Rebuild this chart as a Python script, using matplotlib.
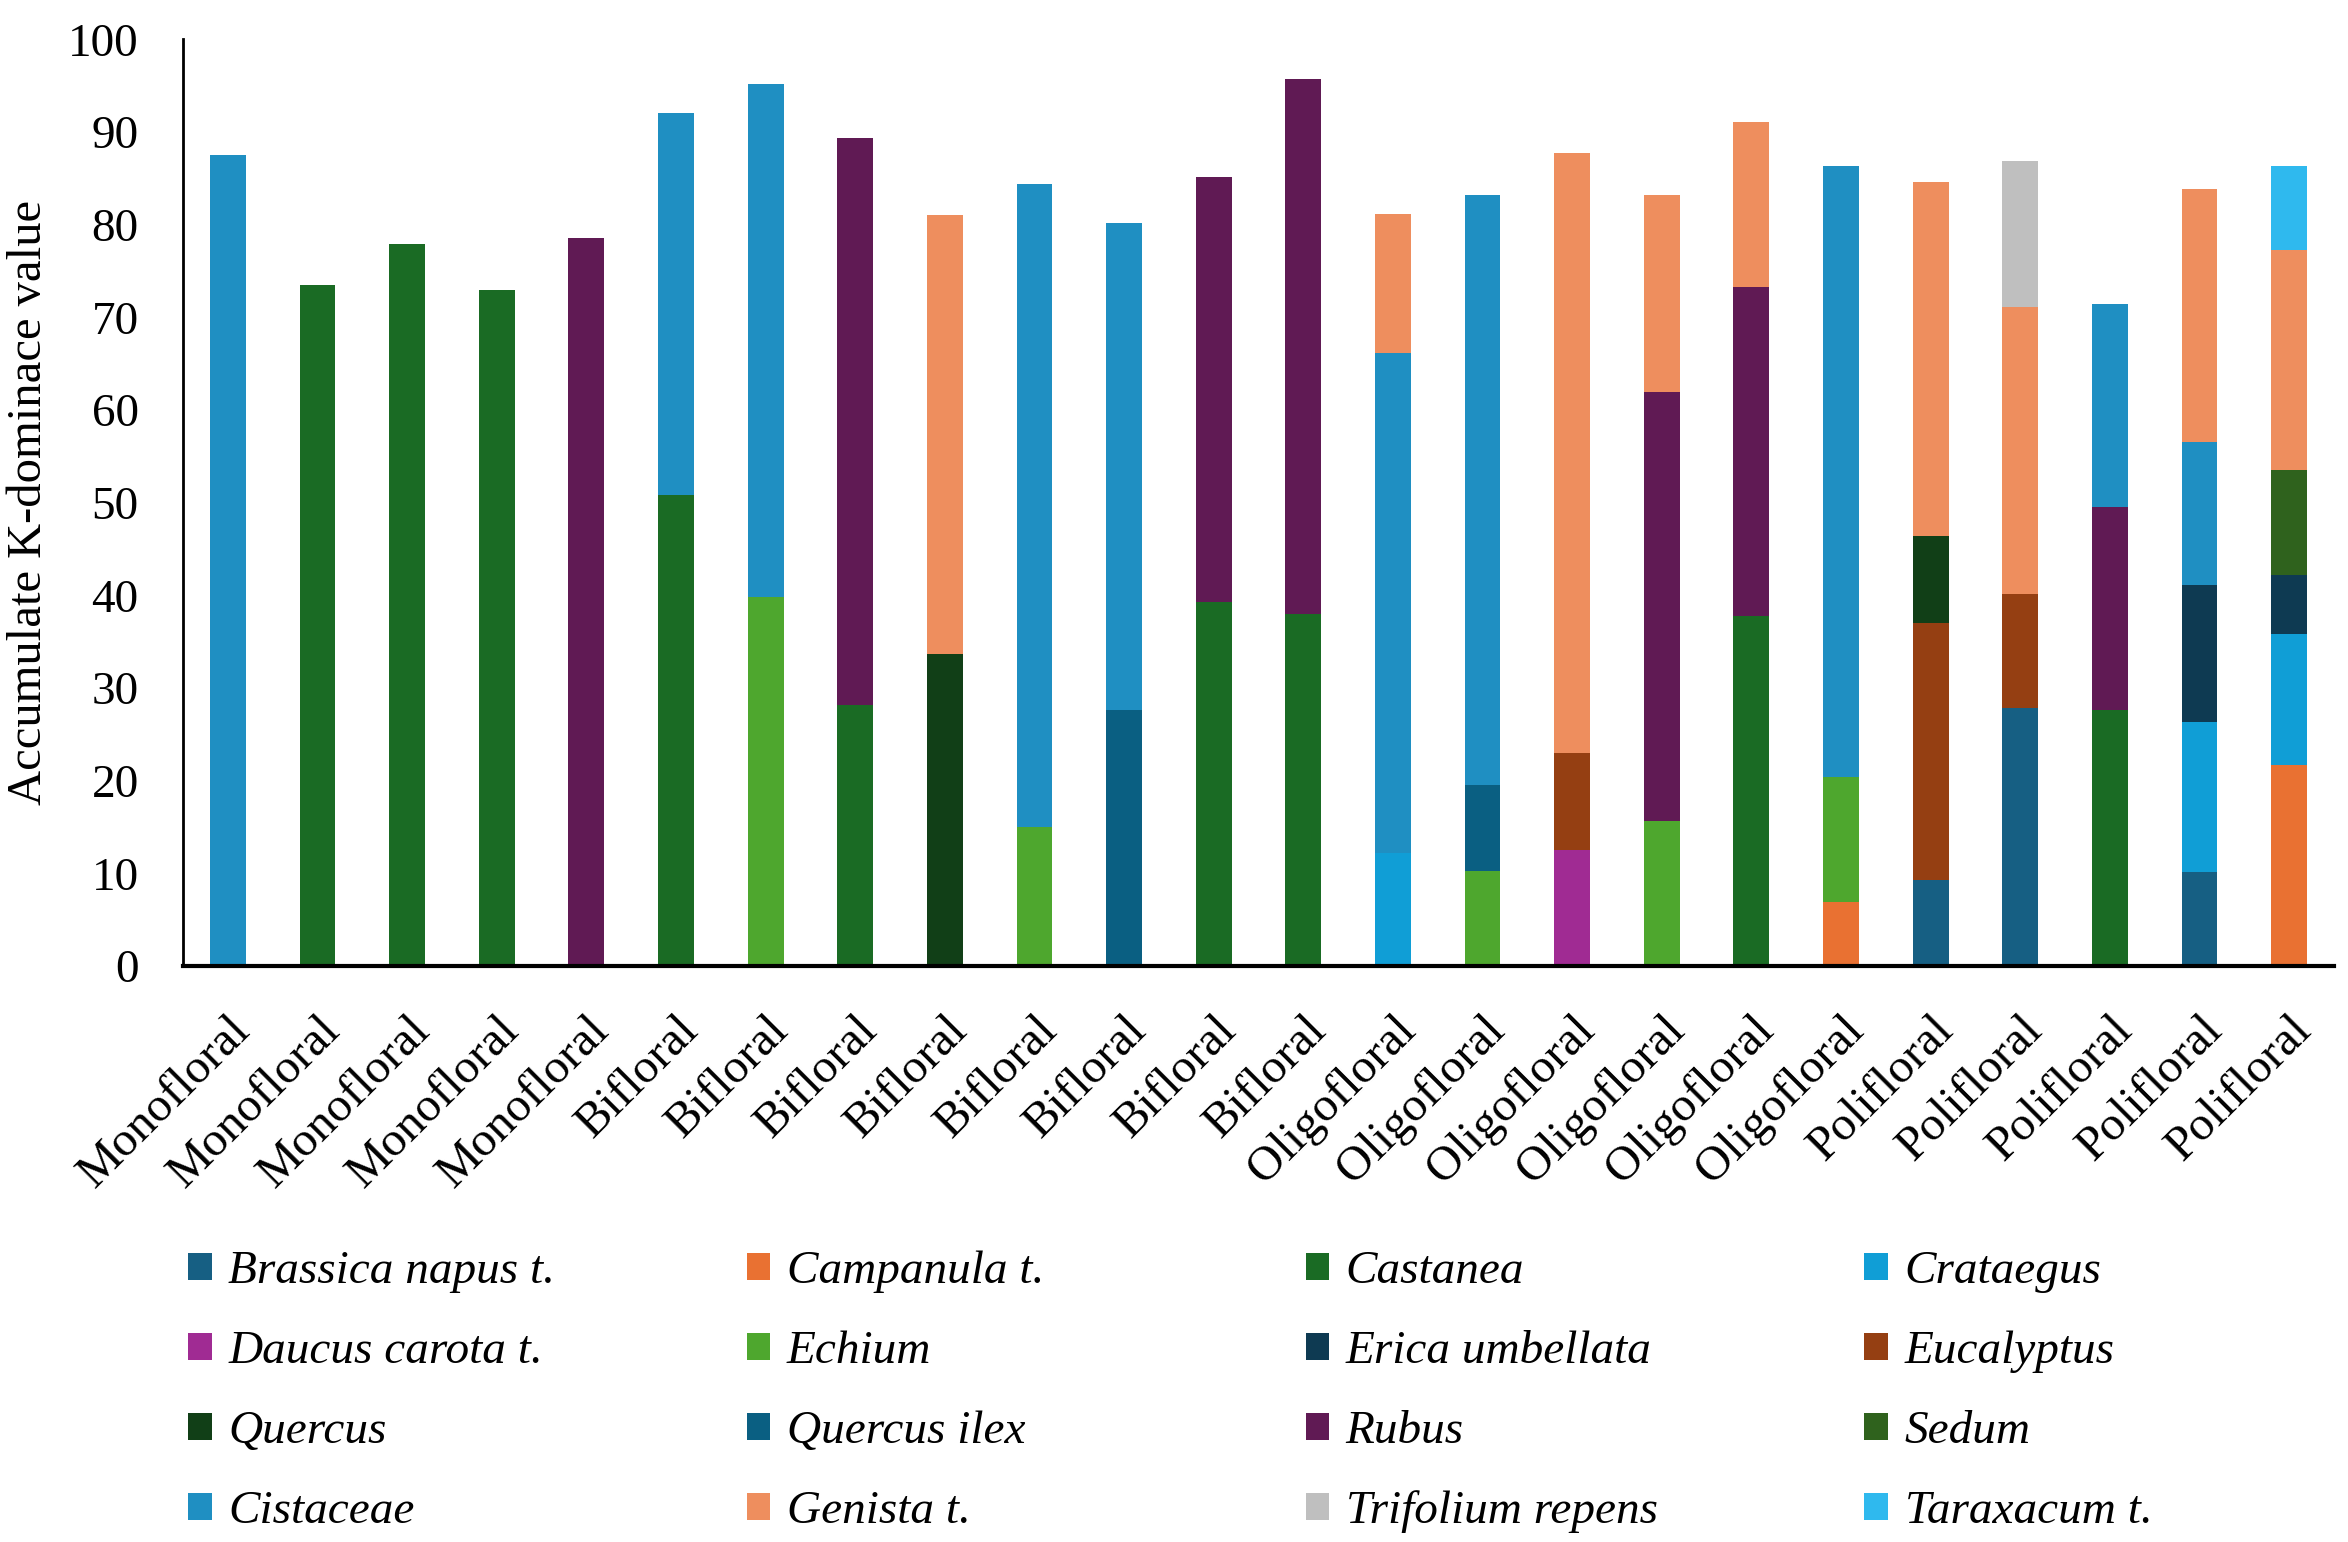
import matplotlib
matplotlib.use("Agg")
import matplotlib.pyplot as plt
from matplotlib.patches import Patch
import numpy as np

# honey type of each sample (x axis)
samples = (["Monofloral"] * 5 + ["Bifloral"] * 8 + ["Oligofloral"] * 6
           + ["Polifloral"] * 5)

# pollen taxa, in stacking order (bottom to top)
taxa = ["Brassica napus t.", "Campanula t.", "Castanea", "Crataegus",
        "Daucus carota t.", "Echium", "Erica umbellata", "Eucalyptus",
        "Quercus", "Quercus ilex", "Rubus", "Sedum",
        "Cistaceae", "Genista t.", "Trifolium repens", "Taraxacum t."]

# K-dominance value of each taxon per sample
brassica     = [0, 0, 0, 0, 0, 0, 0, 0, 0, 0, 0, 0, 0, 0, 0, 0, 0, 0, 0, 9.3, 27.9, 0, 10.1, 0]
campanula    = [0, 0, 0, 0, 0, 0, 0, 0, 0, 0, 0, 0, 0, 0, 0, 0, 0, 0, 6.9, 0, 0, 0, 0, 21.7]
castanea     = [0, 73.5, 77.9, 73.0, 0, 50.8, 0, 28.2, 0, 0, 0, 39.3, 38.0, 0, 0, 0, 0, 37.8, 0, 0, 0, 27.6, 0, 0]
crataegus    = [0, 0, 0, 0, 0, 0, 0, 0, 0, 0, 0, 0, 0, 12.2, 0, 0, 0, 0, 0, 0, 0, 0, 16.2, 14.1]
daucus       = [0, 0, 0, 0, 0, 0, 0, 0, 0, 0, 0, 0, 0, 0, 0, 12.5, 0, 0, 0, 0, 0, 0, 0, 0]
echium       = [0, 0, 0, 0, 0, 0, 39.8, 0, 0, 15.0, 0, 0, 0, 0, 10.3, 0, 15.7, 0, 13.5, 0, 0, 0, 0, 0]
erica        = [0, 0, 0, 0, 0, 0, 0, 0, 0, 0, 0, 0, 0, 0, 0, 0, 0, 0, 0, 0, 0, 0, 14.8, 6.4]
eucalyptus   = [0, 0, 0, 0, 0, 0, 0, 0, 0, 0, 0, 0, 0, 0, 0, 10.5, 0, 0, 0, 27.7, 12.3, 0, 0, 0]
quercus      = [0, 0, 0, 0, 0, 0, 0, 0, 33.7, 0, 0, 0, 0, 0, 0, 0, 0, 0, 0, 9.4, 0, 0, 0, 0]
quercus_ilex = [0, 0, 0, 0, 0, 0, 0, 0, 0, 0, 27.6, 0, 0, 0, 9.2, 0, 0, 0, 0, 0, 0, 0, 0, 0]
rubus        = [0, 0, 0, 0, 78.6, 0, 0, 61.2, 0, 0, 0, 45.8, 57.7, 0, 0, 0, 46.2, 35.5, 0, 0, 0, 21.9, 0, 0]
sedum        = [0, 0, 0, 0, 0, 0, 0, 0, 0, 0, 0, 0, 0, 0, 0, 0, 0, 0, 0, 0, 0, 0, 0, 11.3]
cistaceae    = [87.5, 0, 0, 0, 0, 41.3, 55.4, 0, 0, 69.4, 52.6, 0, 0, 54.0, 63.7, 0, 0, 0, 65.9, 0, 0, 21.9, 15.5, 0]
genista      = [0, 0, 0, 0, 0, 0, 0, 0, 47.3, 0, 0, 0, 0, 15.0, 0, 64.7, 21.3, 17.8, 0, 38.2, 30.9, 0, 27.2, 23.8]
trifolium    = [0, 0, 0, 0, 0, 0, 0, 0, 0, 0, 0, 0, 0, 0, 0, 0, 0, 0, 0, 0, 15.8, 0, 0, 0]
taraxacum    = [0, 0, 0, 0, 0, 0, 0, 0, 0, 0, 0, 0, 0, 0, 0, 0, 0, 0, 0, 0, 0, 0, 0, 9.0]

series = [brassica, campanula, castanea, crataegus, daucus, echium, erica,
          eucalyptus, quercus, quercus_ilex, rubus, sedum, cistaceae,
          genista, trifolium, taraxacum]

colors = ["#165F83", "#E97132", "#1A6B24", "#109ED6", "#A02B93", "#4EA72E",
          "#0E3A52", "#953F12", "#113F17", "#0A5F82", "#601A54", "#2F621D",
          "#1F8FC2", "#EE8E5E", "#BFBFBF", "#2FB9EE"]

plt.rcParams["font.family"] = ["Liberation Serif", "DejaVu Serif"]

fig = plt.figure(figsize=(23.48, 15.42), dpi=100)
ax = fig.add_axes([0.078, 0.3735, 0.916, 0.601])

x = np.arange(len(samples))
bottom = np.zeros(len(samples))
for vals, col in zip(series, colors):
    vals = np.array(vals)
    ax.bar(x, vals, width=0.4, bottom=bottom, color=col, linewidth=0)
    bottom += vals

ax.set_xlim(-0.5, len(samples) - 0.5)
ax.set_ylim(0, 100)
ax.set_yticks(np.arange(0, 101, 10))
ax.set_xticks(x)
ax.set_xticklabels(samples, rotation=45, ha="right", va="top",
                   rotation_mode="anchor", fontsize=35)
ax.tick_params(axis="y", length=0, pad=32, labelsize=34)
ax.tick_params(axis="x", length=0, pad=30)
ax.set_ylabel("Accumulate K-dominace value", fontsize=35, labelpad=12)

for side in ["top", "right"]:
    ax.spines[side].set_visible(False)
ax.spines["left"].set_linewidth(2)
ax.spines["bottom"].set_linewidth(3)

# legend laid out row by row in four evenly spaced columns
handles = [Patch(facecolor=c, edgecolor="none") for c in colors]
col_x = [0.072, 0.31, 0.548, 0.786]
for c in range(4):
    idx = [r * 4 + c for r in range(4)]
    fig.legend([handles[i] for i in idx], [taxa[i] for i in idx],
               loc="upper left", bbox_to_anchor=(col_x[c], 0.201),
               frameon=False, prop={"style": "italic", "size": 34},
               handlelength=0.5, handleheight=0.5, handletextpad=0.35,
               labelspacing=0.79, borderaxespad=0)

fig.savefig("out.png", dpi=100)
